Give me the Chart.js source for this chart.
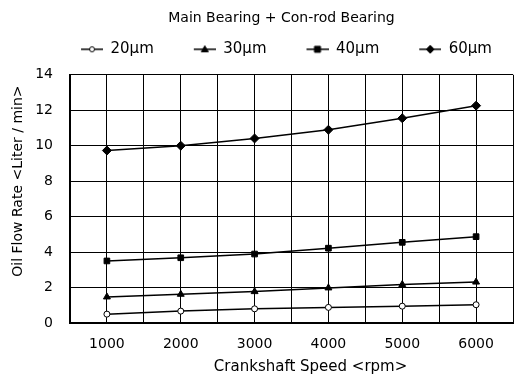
<!DOCTYPE html>
<html>
<head>
<meta charset="utf-8">
<script src="https://cdn.jsdelivr.net/npm/chart.js"></script>
<style>
  html, body { margin: 0; padding: 0; background: #fff; }
  #wrap { width: 519px; height: 380px; }
</style>
</head>
<body>
<div id="wrap"><canvas id="chart"></canvas></div>
<script>
// crankshaft speed (rpm)
const speeds = [1000, 2000, 3000, 4000, 5000, 6000];
// oil flow rate (liter/min) per clearance
const flow20 = [0.50, 0.67, 0.80, 0.88, 0.95, 1.03];
const flow30 = [1.47, 1.62, 1.77, 1.98, 2.17, 2.31];
const flow40 = [3.50, 3.68, 3.89, 4.22, 4.55, 4.87];
const flow60 = [9.73, 10.0, 10.41, 10.90, 11.55, 12.26];
const seriesNames = ['20μm', '30μm', '40μm', '60μm'];
const yTicks = [0, 2, 4, 6, 8, 10, 12, 14];

const FONT = 'DejaVu Sans, Verdana, sans-serif';
const ICON_W = 32;

function toPoints(vals) {
  return speeds.map((s, i) => ({ x: s, y: vals[i] }));
}

// legend icon: line + marker at the right end of the canvas
function legendIcon(style, fill) {
  const c = document.createElement('canvas');
  c.width = ICON_W; c.height = 10;
  const g = c.getContext('2d');
  const x0 = ICON_W - 22, cx = x0 + 11;
  g.strokeStyle = '#000';
  g.lineWidth = 1.5;
  g.beginPath(); g.moveTo(x0, 5); g.lineTo(ICON_W, 5); g.stroke();
  g.fillStyle = fill;
  g.lineWidth = 1;
  g.beginPath();
  if (style === 'circle') {
    g.arc(cx, 5, 2.5, 0, Math.PI * 2);
  } else if (style === 'triangle') {
    g.moveTo(cx, 1.5); g.lineTo(cx + 3.5, 7.5); g.lineTo(cx - 3.5, 7.5); g.closePath();
  } else if (style === 'rect') {
    g.rect(cx - 3, 2, 6, 6);
  } else {
    g.moveTo(cx, 1); g.lineTo(cx + 4, 5); g.lineTo(cx, 9); g.lineTo(cx - 4, 5); g.closePath();
  }
  g.fill(); g.stroke();
  return c;
}

// leave a gap between the legend row and the plot
const legendGap = {
  id: 'legendGap',
  afterInit(chart) {
    const lg = chart.legend;
    if (!lg) return;
    const fit = lg.fit;
    lg.fit = function () { fit.call(this); this.height += 8; };
  },
};

const styles = ['circle', 'triangle', 'rect', 'rectRot'];
const fills = ['#fff', '#000', '#000', '#000'];
const radii = [3, 4, 4, 4.5];
const allData = [flow20, flow30, flow40, flow60];

const datasets = allData.map((vals, i) => ({
  label: seriesNames[i],
  data: toPoints(vals),
  borderColor: '#000',
  borderWidth: 1.5,
  pointStyle: styles[i],
  pointRadius: radii[i],
  pointBackgroundColor: fills[i],
  pointBorderColor: '#000',
  pointBorderWidth: 1,
  tension: 0,
}));

new Chart(document.getElementById('chart'), {
  type: 'line',
  data: { datasets: datasets },
  plugins: [legendGap],
  options: {
    responsive: true,
    maintainAspectRatio: false,
    animation: false,
    layout: { padding: { left: 30, right: -14, top: 2, bottom: 4 } },
    plugins: {
      title: {
        display: true,
        text: 'Main Bearing + Con-rod Bearing',
        color: '#000',
        font: { family: FONT, size: 14, weight: 'normal' },
        padding: { top: 8, bottom: -15 },
      },
      legend: {
        display: true,
        labels: {
          color: '#000',
          font: { family: FONT, size: 15 },
          usePointStyle: true,
          pointStyleWidth: ICON_W,
          padding: 30,
          generateLabels: (chart) => chart.data.datasets.map((ds, i) => ({
            text: ds.label,
            pointStyle: legendIcon(styles[i], fills[i]),
            fontColor: '#000',
            strokeStyle: '#000',
            lineWidth: 0,
            hidden: false,
            datasetIndex: i,
          })),
        },
      },
      tooltip: { enabled: false },
    },
    scales: {
      x: {
        type: 'linear',
        min: 500,
        max: 6500,
        afterFit: (s) => { s.height = 53; s.paddingRight = 6; },
        ticks: {
          stepSize: 500,
          autoSkip: false,
          maxRotation: 0,
          minRotation: 0,
          color: '#000',
          padding: 13,
          font: { family: FONT, size: 14 },
          callback: (v) => (v % 1000 === 0 && v >= 1000 && v <= 6000) ? String(v) : '',
        },
        grid: { color: '#000', lineWidth: 1, drawTicks: false },
        border: { color: '#000', width: 2 },
        title: {
          display: true,
          text: '        Crankshaft Speed <rpm>',
          color: '#000',
          font: { family: FONT, size: 15 },
          padding: { top: 2, bottom: 0 },
        },
      },
      y: {
        min: 0,
        max: 14,
        afterFit: (s) => { s.width = 40; },
        afterBuildTicks: (s) => { s.ticks = yTicks.map(v => ({ value: v })); },
        ticks: {
          color: '#000',
          padding: 17,
          font: { family: FONT, size: 14 },
        },
        grid: { color: '#000', lineWidth: 1, drawTicks: false },
        border: { color: '#000', width: 2 },
        title: {
          display: true,
          text: '        Oil Flow Rate <Liter / min>',
          color: '#000',
          font: { family: FONT, size: 14 },
          padding: { top: -20, bottom: 0 },
        },
      },
    },
  },
});
</script>
</body>
</html>
